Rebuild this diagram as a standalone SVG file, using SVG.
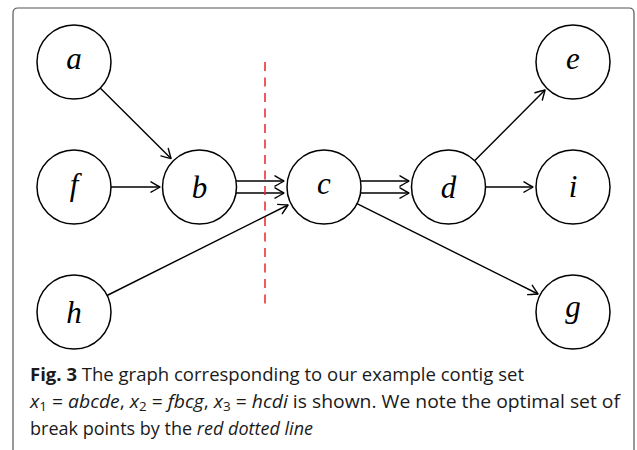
<svg xmlns="http://www.w3.org/2000/svg" width="637" height="450" viewBox="0 0 637 450">
<defs>
<marker id="arr" markerWidth="14" markerHeight="14" refX="0" refY="0" viewBox="-11 -7 14 14" orient="auto" markerUnits="userSpaceOnUse">
<path d="M -9 -5.2 Q -2.5 -1.5 0 0 Q -2.5 1.5 -9 5.2" fill="none" stroke="#000" stroke-width="1.4" stroke-linecap="round" stroke-linejoin="round"/>
</marker>
<style>
.node circle{fill:#fff;stroke:#000;stroke-width:1.5}
.node text{font-family:"Liberation Serif","DejaVu Serif",serif;font-style:italic;font-size:31px;text-anchor:middle;fill:#000}
.edge{stroke:#000;stroke-width:1.4;fill:none;marker-end:url(#arr)}
.cap{font-family:"Open Sans","Noto Sans",sans-serif;font-size:18px;fill:#1a1a1a}
</style>
</defs>
<rect width="637" height="450" fill="#fff"/>
<path d="M13 452 V13 Q13 8 18 8 H629 Q634 8 634 13 V452" fill="none" stroke="#555" stroke-width="1.2"/>

<g id="connectors">
<path class="edge" d="M100.2 88.1 L171 158.5"/>
<path class="edge" d="M111 187 L160 187"/>
<path class="edge" d="M236 181 L284 181"/>
<path class="edge" d="M236 193 L284 193"/>
<path class="edge" d="M107 295.5 L288 205"/>
<path class="edge" d="M360.5 181 L409 181"/>
<path class="edge" d="M360.5 193 L409 193"/>
<path class="edge" d="M357 203.6 L538 294"/>
<path class="edge" d="M474.6 160.8 L545 90"/>
<path class="edge" d="M485.5 187 L533 187"/>
</g>

<line id="breakline" x1="265" y1="62" x2="265" y2="309" stroke="#e8262b" stroke-width="1.5" stroke-dasharray="9 6.5"/>

<g id="node-a" class="node"><circle cx="74" cy="62" r="37"/><text x="74" y="69">a</text></g>
<g id="node-f" class="node"><circle cx="74" cy="187" r="37"/><text x="74" y="194.5">f</text></g>
<g id="node-h" class="node"><circle cx="74" cy="312" r="37"/><text x="74" y="322.5">h</text></g>
<g id="node-b" class="node"><circle cx="199.5" cy="187" r="37"/><text x="199.5" y="197.5">b</text></g>
<g id="node-c" class="node"><circle cx="324" cy="187" r="37"/><text x="324" y="194">c</text></g>
<g id="node-d" class="node"><circle cx="448.5" cy="187" r="37"/><text x="448.5" y="197.5">d</text></g>
<g id="node-e" class="node"><circle cx="573" cy="62" r="37"/><text x="573" y="69">e</text></g>
<g id="node-i" class="node"><circle cx="573" cy="187" r="37"/><text x="573" y="197">i</text></g>
<g id="node-g" class="node"><circle cx="573" cy="312" r="37"/><text x="573" y="316.5">g</text></g>

<g id="caption" class="cap">
<text x="30" y="381" textLength="494" lengthAdjust="spacingAndGlyphs"><tspan font-weight="bold">Fig. 3</tspan> The graph corresponding to our example contig set</text>
<text x="30" y="408" textLength="590" lengthAdjust="spacingAndGlyphs"><tspan font-style="italic">x</tspan><tspan font-size="12.5" dy="3">1</tspan><tspan dy="-3"> = </tspan><tspan font-style="italic">abcde</tspan>, <tspan font-style="italic">x</tspan><tspan font-size="12.5" dy="3">2</tspan><tspan dy="-3"> = </tspan><tspan font-style="italic">fbcg</tspan>, <tspan font-style="italic">x</tspan><tspan font-size="12.5" dy="3">3</tspan><tspan dy="-3"> = </tspan><tspan font-style="italic">hcdi</tspan> is shown. We note the optimal set of</text>
<text x="30" y="435" textLength="283" lengthAdjust="spacingAndGlyphs">break points by the <tspan font-style="italic">red dotted line</tspan></text>
</g>
</svg>
